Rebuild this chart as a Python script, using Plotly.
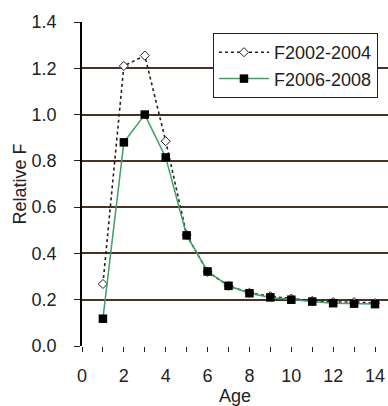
import plotly.graph_objects as go

ages = list(range(1, 15))
f2002_2004 = [0.268, 1.21, 1.255, 0.885, 0.48, 0.32, 0.26, 0.23, 0.215, 0.205, 0.195, 0.19, 0.19, 0.185]
f2006_2008 = [0.118, 0.88, 1.0, 0.815, 0.478, 0.322, 0.26, 0.228, 0.21, 0.2, 0.192, 0.185, 0.183, 0.181]
x_ticks = [0, 2, 4, 6, 8, 10, 12, 14]
y_ticks = [0.0, 0.2, 0.4, 0.6, 0.8, 1.0, 1.2, 1.4]

fig = go.Figure()
fig.add_trace(go.Scatter(
    x=ages, y=f2002_2004, name="F2002-2004", mode="lines+markers",
    line=dict(color="#222222", width=1.6, dash="dot"),
    marker=dict(symbol="diamond", size=7, color="white", line=dict(color="#222222", width=1)),
))
fig.add_trace(go.Scatter(
    x=ages, y=f2006_2008, name="F2006-2008", mode="lines+markers",
    line=dict(color="#3f9f66", width=1.5),
    marker=dict(symbol="square", size=8.5, color="black"),
))

font = "Liberation Sans, Arial, sans-serif"
fig.update_layout(
    width=388, height=406,
    margin=dict(l=82, r=0, t=22, b=60),
    paper_bgcolor="white", plot_bgcolor="white",
    font=dict(family=font, size=18, color="#222222"),
    showlegend=True,
    legend=dict(
        x=0.428, y=0.966, xanchor="left", yanchor="top",
        bgcolor="white", bordercolor="#222222", borderwidth=1,
        font=dict(size=18), itemwidth=50, tracegroupgap=0,
    ),
    xaxis=dict(
        range=[0, 14.62], tickmode="array", tickvals=x_ticks,
        ticks="outside", ticklen=5, tickcolor="#222222", tickwidth=1,
        minor=dict(dtick=1, tick0=0, ticks="outside", ticklen=5, tickcolor="#222222", showgrid=False),
        showgrid=False, zeroline=False, showline=False,
        ticklabelstandoff=8,
        title=dict(text="Age", font=dict(size=18), standoff=2),
    ),
    yaxis=dict(
        range=[0, 1.4], tickmode="array", tickvals=y_ticks,
        tickformat=".1f",
        ticks="outside", ticklen=6, tickcolor="#222222", tickwidth=1,
        showgrid=True, gridcolor="#4a3028", gridwidth=1.5,
        zeroline=False, showline=True, linecolor="black", linewidth=1.5,
        ticklabelstandoff=14,
        title=dict(text="Relative F", font=dict(size=18), standoff=0),
    ),
)

fig.write_html(
    "out.html",
    config={"displayModeBar": False},
    post_script="document.body.style.margin='0';document.body.style.overflow='hidden';",
)
